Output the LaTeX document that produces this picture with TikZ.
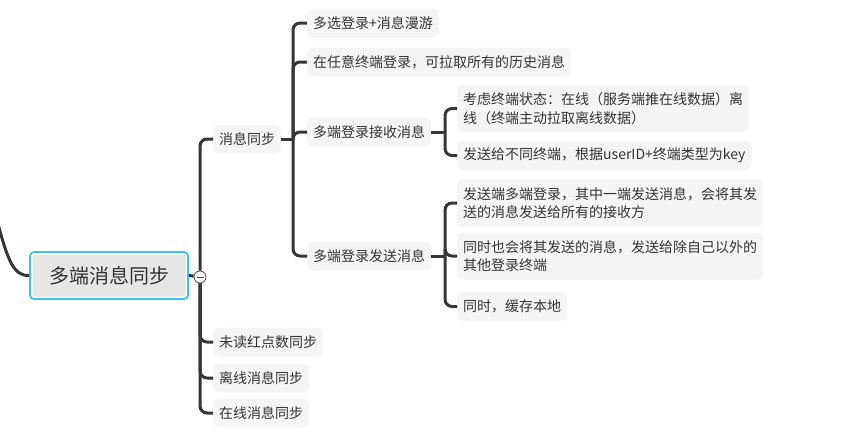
\documentclass[tikz,border=0pt]{standalone}
\usepackage{fontspec}
\setmainfont{Noto Sans CJK SC}
\usetikzlibrary{positioning}
\definecolor{linkgray}{HTML}{363636}
\definecolor{leafgray}{HTML}{F5F5F5}
\definecolor{rootgray}{HTML}{E6E6E6}
\definecolor{rootblue}{HTML}{3EBFF2}
\definecolor{textgray}{HTML}{333333}

\begin{document}
\begin{tikzpicture}[x=1pt,y=-1pt,
leaf/.style={fill=leafgray,rounded corners=6pt,anchor=west,align=left,inner xsep=6pt,inner ysep=0pt,minimum height=29pt,text=textgray,font=\fontsize{14}{18.5}\selectfont},
root/.style={draw=rootblue,line width=1.8pt,fill=white,rounded corners=4pt,minimum width=158pt,minimum height=47pt,text=textgray,font=\fontsize{20}{24}\selectfont,
  path picture={\fill[rootgray,rounded corners=3pt] ([shift={(2.5pt,-2.5pt)}]path picture bounding box.north west) rectangle ([shift={(-2.5pt,2.5pt)}]path picture bounding box.south east);}},
link/.style={draw=linkgray,line width=3pt,rounded corners=7pt}]
\useasboundingbox (0,0) rectangle (847,432);
\node[root] (root) at (109,275.5) {多端消息同步};
\node[circle,draw=linkgray!90,fill=white,line width=0.8pt,minimum size=12pt,inner sep=0pt,
  path picture={\draw[line width=1pt] ([xshift=-3.5pt]path picture bounding box.center) -- ([xshift=3.5pt]path picture bounding box.center);}] (toggle) at (200,277) {};
\node[leaf] (sync) at (213,139) {消息同步};
\node[leaf] (unread) at (213,342) {未读红点数同步};
\node[leaf] (offline) at (213,378) {离线消息同步};
\node[leaf] (online) at (213,413) {在线消息同步};
\node[leaf] (roam) at (307,23) {多选登录+消息漫游};
\node[leaf] (history) at (307,62) {在任意终端登录，可拉取所有的历史消息};
\node[leaf] (recv) at (307,132) {多端登录接收消息};
\node[leaf] (send) at (307,256) {多端登录发送消息};
\node[leaf,minimum height=47pt] (state) at (457,108.5) {考虑终端状态：在线（服务端推在线数据）离\\线（终端主动拉取离线数据）};
\node[leaf] (key) at (457,155.5) {发送给不同终端，根据userID+终端类型为key};
\node[leaf,minimum height=48pt] (allrecv) at (457,203) {发送端多端登录，其中一端发送消息，会将其发\\送的消息发送给所有的接收方};
\node[leaf,minimum height=47pt] (others) at (457,256) {同时也会将其发送的消息，发送给除自己以外的\\其他登录终端};
\node[leaf] (cache) at (457,306.5) {同时，缓存本地};
% connectors
\coordinate (parentend) at (-3,220);
\coordinate (syncfork) at (293,139);
\coordinate (recvfork) at (445,132);
\coordinate (sendfork) at (445,256);
\draw[link] (parentend) .. controls (8,262) and (14,276) .. (root.west);
\draw[link] (root.east) -- (toggle);
\foreach \n in {sync,unread,offline,online} \draw[link] (toggle) |- (\n.west);
\draw[link] (sync.east) -- (syncfork);
\foreach \n in {roam,history,recv,send} \draw[link] (syncfork) |- (\n.west);
\draw[link] (recv.east) -- (recvfork);
\foreach \n in {state,key} \draw[link] (recvfork) |- (\n.west);
\draw[link] (send.east) -- (sendfork);
\foreach \n in {allrecv,others,cache} \draw[link] (sendfork) |- (\n.west);
\end{tikzpicture}
\end{document}
